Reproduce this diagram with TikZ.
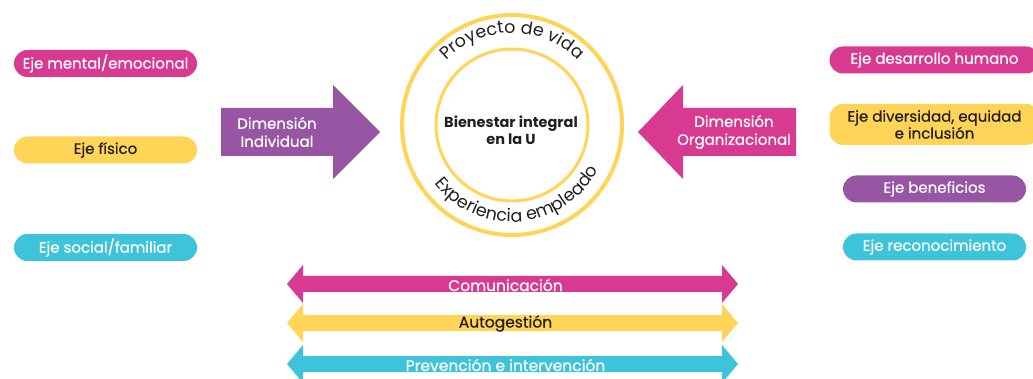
\documentclass[tikz,border=0pt]{standalone}
\usepackage{fontspec}
\setmainfont{Poppins}
\newfontfamily\medfont{Poppins}[FakeBold=0.6]
\usetikzlibrary{decorations.text}
\definecolor{rosa}{HTML}{D83A91}
\definecolor{amarillo}{HTML}{FFD457}
\definecolor{morado}{HTML}{9755A4}
\definecolor{cian}{HTML}{3DC4DA}
\definecolor{oscuro}{HTML}{231F20}
\newcommand{\ejepill}[6]{\node[pillbox,fill=#1,text=#2,minimum width=#3] (#4) at (#5) {#6};}
\newcommand{\dobleflecha}[2]{\fill[#1] (287,#2) -- (303,#2+19) -- (303,#2+8) -- (722,#2+8) -- (722,#2+19) -- (738,#2) -- (722,#2-19) -- (722,#2-8) -- (303,#2-8) -- (303,#2-19) -- cycle;}
\tikzset{
  pillbox/.style={rounded corners=13.5pt, minimum height=27pt, inner sep=0pt, align=center, font=\medfont\fontsize{15}{17}\selectfont},
  dimtext/.style={text=white, align=center, font=\medfont\fontsize{15}{18}\selectfont},
  bandtext/.style={font=\medfont\fontsize{15.5}{17}\selectfont}
}

\begin{document}
\begin{tikzpicture}[x=1pt,y=1pt]
\useasboundingbox (0,0) rectangle (1033,-379);
% left axes
\ejepill{rosa}{white}{183pt}{mental}{105.5,-63.5}{Eje mental/emocional}
\ejepill{amarillo}{oscuro}{183pt}{fisico}{105.5,-150}{Eje físico}
\ejepill{cian}{white}{183pt}{social}{105.5,-247.5}{Eje social/familiar}
% right axes
\ejepill{rosa}{white}{210pt}{desarrollo}{934.5,-60}{Eje desarrollo humano}
\node[pillbox, fill=amarillo, text=oscuro, minimum width=210pt, minimum height=41pt] (diversidad) at (934.5,-124.5) {Eje diversidad, equidad\\e inclusión};
\ejepill{morado}{white}{183pt}{beneficios}{934.5,-189}{Eje beneficios}
\ejepill{cian}{white}{183pt}{reconocimiento}{934.5,-247}{Eje reconocimiento}
% dimension arrows
\fill[morado] (221,-108) -- (333,-108) -- (333,-85) -- (380,-132) -- (333,-179) -- (333,-156) -- (221,-156) -- cycle;
\fill[rosa] (796,-108) -- (683,-108) -- (683,-85) -- (638,-132) -- (683,-179) -- (683,-156) -- (796,-156) -- cycle;
\node[dimtext] (individual) at (277,-132) {Dimensión\\Individual};
\node[dimtext] (organizacional) at (734,-132) {Dimensión\\Organizacional};
% rings
\draw[amarillo, line width=4pt] (512,-125) circle[radius=110];
\draw[amarillo, line width=3pt] (512,-125) circle[radius=76];
\node[text=oscuro, align=center, font=\bfseries\fontsize{14.5}{17}\selectfont] (bienestar) at (511,-130) {Bienestar integral\\en la U};
\path[decorate, decoration={text along path, text align=center, text={|\color{oscuro}\fontsize{17.5}{17}\selectfont|Proyecto de vida}}] (512,-125) ++(170:92) arc[start angle=170, end angle=10, radius=92];
\path[decorate, decoration={text along path, text align=center, text={|\color{oscuro}\fontsize{17.5}{17}\selectfont|Experiencia empleado}}] (512,-125) ++(195:97) arc[start angle=195, end angle=355, radius=97];
% transversal bands
\dobleflecha{rosa}{-284}
\dobleflecha{amarillo}{-323}
\dobleflecha{cian}{-364}
\node[bandtext, text=white] (comunicacion) at (505.5,-285) {Comunicación};
\node[bandtext, text=oscuro] (autogestion) at (505.5,-323.5) {Autogestión};
\node[bandtext, text=white] (prevencion) at (505.5,-365) {Prevención e intervención};
\end{tikzpicture}
\end{document}
